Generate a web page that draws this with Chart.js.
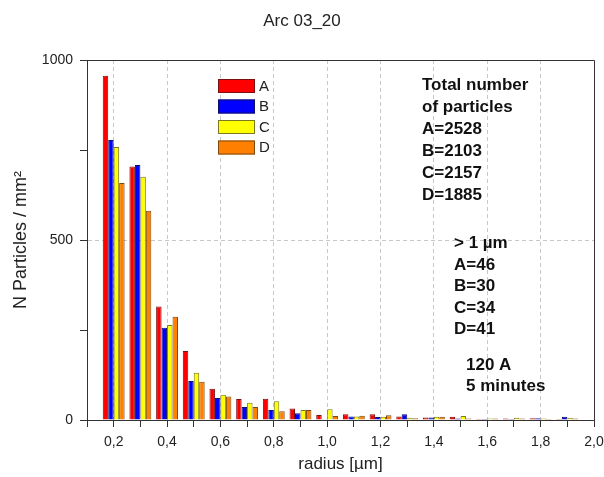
<!DOCTYPE html>
<html>
<head>
<meta charset="utf-8">
<script src="https://cdn.jsdelivr.net/npm/chart.js@4.4.1/dist/chart.umd.min.js"></script>
<style>
  html, body { margin: 0; padding: 0; background: #fff; }
</style>
</head>
<body>
<canvas id="arcChart" width="604" height="477"></canvas>
<script>
{
  const radius = [0.2, 0.3, 0.4, 0.5, 0.6, 0.7, 0.8, 0.9, 1.0, 1.1, 1.2, 1.3, 1.4, 1.5, 1.6, 1.7, 1.8, 1.9];

  const seriesA = [956, 704, 315, 192, 87, 58, 59, 32, 14, 16, 16, 10, 7, 9, 3, 4, 5, 3];
  const seriesB = [778, 708, 256, 108, 61, 36, 28, 19, 2, 10, 8, 16, 7, 4, 3, 3, 5, 9];
  const seriesC = [758, 676, 264, 131, 70, 48, 52, 28, 30, 10, 9, 6, 9, 11, 4, 6, 4, 6];
  const seriesD = [658, 581, 287, 106, 65, 36, 24, 28, 11, 12, 13, 5, 9, 4, 4, 4, 3, 4];

  const names = ['A', 'B', 'C', 'D'];
  const fills = ['#ff0000', '#0000ff', '#ffff00', '#ff8000'];
  const edges = ['#7a1010', '#10106a', '#7a7a20', '#7a4a10'];

  const totalNotes = ['Total number', 'of particles', 'A=2528', 'B=2103', 'C=2157', 'D=1885'];
  const overOneNotes = ['> 1 \u00b5m', 'A=46', 'B=30', 'C=34', 'D=41'];
  const runNotes = ['120 A', '5 minutes'];

  const FONT = "'Liberation Sans', Arial, sans-serif";
  Chart.defaults.font.family = FONT;
  Chart.defaults.color = '#222';

  const ctx = document.getElementById('arcChart').getContext('2d');

  const series = [seriesA, seriesB, seriesC, seriesD];
  const datasets = series.map((vals, k) => ({
    label: names[k],
    data: vals.map((v, i) => ({ x: radius[i], y: v })),
    backgroundColor: fills[k],
    borderColor: edges[k],
    borderWidth: 1,
    categoryPercentage: 0.82,
    barPercentage: 1.0
  }));

  const isMajor = (v) => Math.round(v * 10) % 2 === 0;

  // frame on top and right, legend boxes and text notes
  const decorations = {
    id: 'decorations',
    afterDraw(chart) {
      const c = chart.ctx;
      const a = chart.chartArea;
      c.save();
      c.strokeStyle = '#333';
      c.lineWidth = 1;
      c.beginPath();
      c.moveTo(a.left, a.top + 0.5);
      c.lineTo(a.right + 0.5, a.top + 0.5);
      c.lineTo(a.right + 0.5, a.bottom);
      c.stroke();

      // legend
      c.font = '15px ' + FONT;
      c.textBaseline = 'middle';
      c.textAlign = 'left';
      chart.data.datasets.forEach((ds, k) => {
        const y = 79 + k * 20.5;
        c.fillStyle = ds.backgroundColor;
        c.fillRect(218, y, 37, 14);
        c.strokeStyle = ds.borderColor;
        c.strokeRect(218.5, y + 0.5, 36, 13);
        c.fillStyle = '#222';
        c.fillText(ds.label, 259, y + 7.5);
      });

      // notes
      c.font = 'bold 17px ' + FONT;
      c.textBaseline = 'top';
      c.fillStyle = '#111';
      totalNotes.forEach((t, i) => c.fillText(t, 422, 77 + i * 22));
      overOneNotes.forEach((t, i) => c.fillText(t, 454, 235 + i * 21.5));
      runNotes.forEach((t, i) => c.fillText(t, 466, 357 + i * 21));
      c.restore();
    }
  };

  const config = {
    type: 'bar',
    data: { datasets: datasets },
    options: {
      responsive: false,
      animation: false,
      layout: { padding: { left: 0, right: 0, top: 0, bottom: 0 } },
      plugins: {
        legend: { display: false },
        tooltip: { enabled: false },
        title: {
          display: true,
          text: 'Arc 03_20',
          color: '#222',
          font: { size: 17, weight: 'normal', lineHeight: '20px' },
          padding: { top: 11, bottom: 29 }
        }
      },
      scales: {
        x: {
          type: 'linear',
          min: 0.1,
          max: 2.0,
          offset: false,
          afterFit(scale) { scale.height = 57; scale.paddingRight = 10; },
          title: {
            display: true,
            text: 'radius [\u00b5m]',
            color: '#222',
            font: { size: 17 },
            padding: { top: 0, bottom: 2 }
          },
          ticks: {
            stepSize: 0.1,
            autoSkip: false,
            maxRotation: 0,
            padding: 7,
            color: '#222',
            font: { size: 14 },
            callback: (v) => isMajor(v) ? v.toFixed(1).replace('.', ',') : ''
          },
          grid: {
            offset: false,
            color: (c) => (c.tick && isMajor(c.tick.value) && c.tick.value > 0.15 && c.tick.value < 1.95) ? '#c8c8c8' : 'rgba(0,0,0,0)',
            tickColor: '#333',
            tickLength: 7,
            lineWidth: 1
          },
          border: { color: '#333', width: 1, dash: [4, 3] }
        },
        y: {
          min: 0,
          max: 1000,
          afterFit(scale) { scale.width = 87; },
          title: {
            display: true,
            text: 'N Particles / mm\u00b2',
            color: '#222',
            font: { size: 18 },
            padding: { top: 10, bottom: 0 }
          },
          ticks: {
            stepSize: 250,
            padding: 7,
            color: '#222',
            font: { size: 14 },
            callback: (v) => v % 500 === 0 ? String(v) : ''
          },
          grid: {
            color: (c) => (c.tick && c.tick.value === 500) ? '#c8c8c8' : 'rgba(0,0,0,0)',
            tickColor: '#333',
            tickLength: 7,
            lineWidth: 1
          },
          border: { color: '#333', width: 1, dash: [4, 3] }
        }
      }
    },
    plugins: [decorations]
  };

  var arcChart = new Chart(ctx, config);
}
</script>
</body>
</html>
